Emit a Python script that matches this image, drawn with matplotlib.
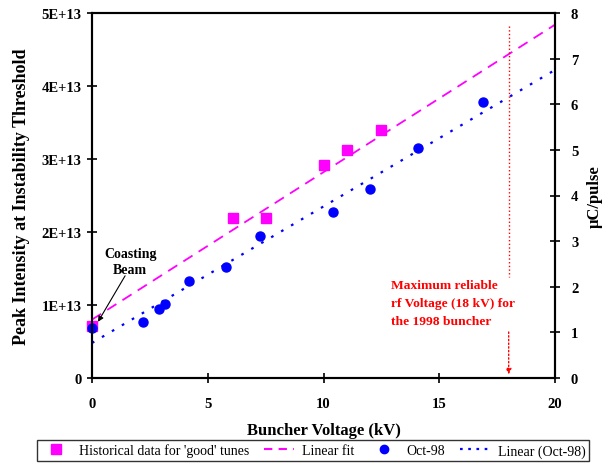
import matplotlib
matplotlib.use('Agg')
import matplotlib.pyplot as plt
from matplotlib.lines import Line2D
import numpy as np

plt.rcParams['font.family'] = ['Liberation Serif', 'DejaVu Serif']

# historical data for 'good' tunes
hist_kv = [0.0, 6.1, 7.5, 10.0, 11.0, 12.5]
hist_int = [7.1e12, 2.19e13, 2.19e13, 2.92e13, 3.12e13, 3.40e13]

# Oct-98 measurements
oct_kv = [0.0, 2.2, 2.9, 3.15, 4.2, 5.8, 7.25, 10.4, 12.0, 14.1, 16.9]
oct_int = [6.8e12, 7.7e12, 9.5e12, 1.01e13, 1.33e13, 1.52e13, 1.95e13,
           2.27e13, 2.59e13, 3.15e13, 3.78e13]

# trendline coefficients (intercept, slope per kV) as shown on the chart
hist_fit = (8.0e12, 2.02e12)
oct_fit = (4.8e12, 1.87e12)
fit_range = [0.0, 20.0]

MAG = '#FF00FF'
BLU = '#0000FF'
RED = '#FF0000'

fig = plt.figure(figsize=(6.03, 4.64), dpi=100)
ax = fig.add_axes([92 / 603, 1 - 379 / 464, 463 / 603, 365 / 464])
ax2 = ax.twinx()

xf = np.array(fit_range)
ax.plot(xf, hist_fit[0] + hist_fit[1] * xf, color=MAG, ls=(0, (6, 4)), lw=1.3, zorder=2)
ax.plot(xf, oct_fit[0] + oct_fit[1] * xf, color=BLU, ls=(0, (1.2, 4)), lw=1.6, zorder=2)
ax.plot(hist_kv, hist_int, 's', color=MAG, ms=7.5, zorder=3, clip_on=False)
ax.plot(oct_kv, oct_int, 'o', color=BLU, ms=6.5, mec=BLU, zorder=4, clip_on=False)

ax.set_xlim(0, 20)
ax.set_ylim(0, 5e13)
ax.set_xticks([0, 5, 10, 15, 20])
ax.set_yticks([0, 1e13, 2e13, 3e13, 4e13, 5e13])
ax.set_yticklabels(['0', '1E+13', '2E+13', '3E+13', '4E+13', '5E+13'])
ax2.set_ylim(0, 8)
ax2.set_yticks(range(9))

for a in (ax, ax2):
    a.tick_params(direction='inout', length=7, width=1.2, labelsize=10.5, pad=4)
    for lab in a.get_xticklabels() + a.get_yticklabels():
        lab.set_fontweight('bold')
    for sp in a.spines.values():
        sp.set_linewidth(1.5)
ax.tick_params(axis='x', pad=10)
ax2.tick_params(axis='y', pad=8)

ax.set_xlabel('Buncher Voltage (kV)', fontsize=12, fontweight='bold', labelpad=9)
ax.set_ylabel('Peak Intensity at Instability Threshold', fontsize=13,
              fontweight='bold', labelpad=8)
ax2.set_ylabel('\u03bcC/pulse', fontsize=12, fontweight='bold', labelpad=6)

# red marker for maximum reliable voltage
ax.plot([18, 18], [4.82e13, 1.39e13], color=RED, ls=':', lw=1.0)
ax.annotate('', xy=(18, 0.05e13), xytext=(18, 0.63e13),
            arrowprops=dict(arrowstyle='-|>', color=RED, ls=':', lw=1.0,
                            mutation_scale=8, shrinkA=0, shrinkB=0))
ax.text(12.9, 1.03e13, 'Maximum reliable\nrf Voltage (18 kV) for\nthe 1998 buncher',
        color=RED, fontsize=9.7, fontweight='bold', ha='left', va='center',
        linespacing=1.65)

ax.text(1.65, 1.6e13, 'Coasting\nBeam', ha='center', va='center', fontsize=10,
        fontweight='bold', linespacing=1.3)
ax.annotate('', xy=(0.26, 0.77e13), xytext=(1.43, 1.40e13),
            arrowprops=dict(arrowstyle='-|>', color='black', lw=0.8,
                            mutation_scale=8, shrinkA=0, shrinkB=0))

handles = [
    Line2D([], [], marker='s', ls='none', color=MAG, ms=7),
    Line2D([], [], color=MAG, ls=(0, (4, 3)), lw=1.5),
    Line2D([], [], marker='o', ls='none', color=BLU, ms=6),
    Line2D([], [], color=BLU, ls=(0, (1.2, 2.5)), lw=1.6),
]
labels = ["Historical data for 'good' tunes", 'Linear fit', 'Oct-98', 'Linear (Oct-98)']
leg = fig.legend(handles, labels, loc='lower left', bbox_to_anchor=(37 / 603, 2 / 464),
                 ncol=4, fontsize=10, frameon=True, fancybox=False,
                 edgecolor='black', borderpad=0.25, handlelength=2.2,
                 columnspacing=1.05, handletextpad=0.55, borderaxespad=0)
leg.get_frame().set_linewidth(1.0)

fig.savefig('out.png', dpi=100)
